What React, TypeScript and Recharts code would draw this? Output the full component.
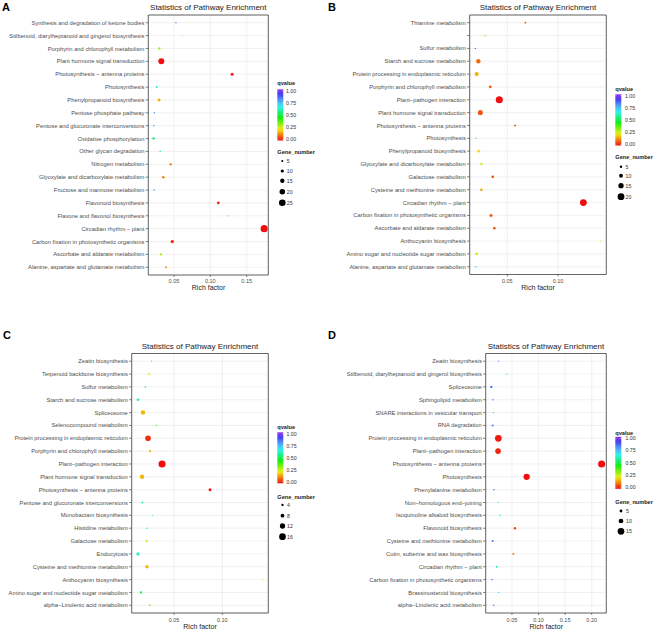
import React from 'react';
import { ScatterChart, Scatter, XAxis, YAxis, CartesianGrid, ReferenceArea } from 'recharts';

// ---------- Panel A ----------
const namesA = [
  'Synthesis and degradation of ketone bodies',
  'Stilbenoid, diarylheptanoid and gingerol biosynthesis',
  'Porphyrin and chlorophyll metabolism',
  'Plant hormone signal transduction',
  'Photosynthesis \u2212 antenna proteins',
  'Photosynthesis',
  'Phenylpropanoid biosynthesis',
  'Pentose phosphate pathway',
  'Pentose and glucuronate interconversions',
  'Oxidative phosphorylation',
  'Other glycan degradation',
  'Nitrogen metabolism',
  'Glyoxylate and dicarboxylate metabolism',
  'Fructose and mannose metabolism',
  'Flavonoid biosynthesis',
  'Flavone and flavonol biosynthesis',
  'Circadian rhythm \u2212 plant',
  'Carbon fixation in photosynthetic organisms',
  'Ascorbate and aldarate metabolism',
  'Alanine, aspartate and glutamate metabolism',
];
const richA = [0.0527, 0.0605, 0.0299, 0.0326, 0.130, 0.0263, 0.0295, 0.023, 0.0222, 0.022, 0.031, 0.0455, 0.0354, 0.0226, 0.111, 0.1245, 0.174, 0.0477, 0.032, 0.039];
const qA = [0.87, 0.22, 0.3, 0.0, 0.01, 0.65, 0.16, 0.81, 0.81, 0.56, 0.65, 0.11, 0.12, 0.82, 0.02, 0.72, 0.0, 0.02, 0.3, 0.14];
const geneA = [1, 2, 6, 22, 9, 5, 9, 2, 2, 7, 3, 6, 7, 2, 8, 1, 27, 10, 5, 5];

// ---------- Panel B ----------
const namesB = [
  'Thiamine metabolism',
  '',
  'Sulfur metabolism',
  'Starch and sucrose metabolism',
  'Protein processing in endoplasmic reticulum',
  'Porphyrin and chlorophyll metabolism',
  'Plant\u2212pathogen interaction',
  'Plant hormone signal transduction',
  'Photosynthesis \u2212 antenna proteins',
  'Photosynthesis',
  'Phenylpropanoid biosynthesis',
  'Glyoxylate and dicarboxylate metabolism',
  'Galactose metabolism',
  'Cysteine and methionine metabolism',
  'Circadian rhythm \u2212 plant',
  'Carbon fixation in photosynthetic organisms',
  'Ascorbate and aldarate metabolism',
  'Anthocyanin biosynthesis',
  'Amino sugar and nucleotide sugar metabolism',
  'Alanine, aspartate and glutamate metabolism',
];
const richB = [0.0678, 0.0283, 0.0184, 0.0214, 0.0198, 0.0332, 0.0421, 0.0234, 0.0576, 0.0188, 0.0218, 0.0244, 0.0356, 0.0244, 0.125, 0.0339, 0.0372, 0.142, 0.0198, 0.0188];
const qB = [0.07, 0.19, 0.89, 0.09, 0.16, 0.07, 0.0, 0.07, 0.05, 0.68, 0.2, 0.25, 0.07, 0.16, 0.0, 0.07, 0.07, 0.25, 0.26, 0.66];
const geneB = [3, 3, 1, 12, 11, 6, 21, 14, 3, 2, 6, 5, 6, 6, 20, 7, 6, 1, 6, 3];

// ---------- Panel C ----------
const namesC = [
  'Zeatin biosynthesis',
  'Terpenoid backbone biosynthesis',
  'Sulfur metabolism',
  'Starch and sucrose metabolism',
  'Spliceosome',
  'Selenocompound metabolism',
  'Protein processing in endoplasmic reticulum',
  'Porphyrin and chlorophyll metabolism',
  'Plant\u2212pathogen interaction',
  'Plant hormone signal transduction',
  'Photosynthesis \u2212 antenna proteins',
  'Pentose and glucuronate interconversions',
  'Monobactam biosynthesis',
  'Histidine metabolism',
  'Galactose metabolism',
  'Endocytosis',
  'Cysteine and methionine metabolism',
  'Anthocyanin biosynthesis',
  'Amino sugar and nucleotide sugar metabolism',
  'alpha\u2212Linolenic acid metabolism',
];
const richC = [0.0269, 0.0241, 0.0203, 0.0127, 0.0179, 0.0317, 0.0231, 0.0252, 0.0376, 0.0169, 0.0873, 0.0172, 0.028, 0.022, 0.0217, 0.0127, 0.022, 0.142, 0.0158, 0.0248];
const qC = [0.55, 0.24, 0.6, 0.6, 0.17, 0.4, 0.03, 0.17, 0.0, 0.17, 0.01, 0.58, 0.62, 0.58, 0.28, 0.62, 0.17, 0.26, 0.5, 0.3];
const geneC = [1, 3, 2, 5, 10, 1, 13, 4, 17, 10, 6, 3, 1, 2, 4, 7, 7, 1, 4, 3];

// ---------- Panel D ----------
const namesD = [
  'Zeatin biosynthesis',
  'Stilbenoid, diarylheptanoid and gingerol biosynthesis',
  'Spliceosome',
  'Sphingolipid metabolism',
  'SNARE interactions in vesicular transport',
  'RNA degradation',
  'Protein processing in endoplasmic reticulum',
  'Plant\u2212pathogen interaction',
  'Photosynthesis \u2212 antenna proteins',
  'Photosynthesis',
  'Phenylalanine metabolism',
  'Non\u2212homologous end\u2212joining',
  'Isoquinoline alkaloid biosynthesis',
  'Flavonoid biosynthesis',
  'Cysteine and methionine metabolism',
  'Cutin, suberine and wax biosynthesis',
  'Circadian rhythm \u2212 plant',
  'Carbon fixation in photosynthetic organisms',
  'Brassinosteroid biosynthesis',
  'alpha\u2212Linolenic acid metabolism',
];
const richD = [0.025, 0.0406, 0.0111, 0.0143, 0.0149, 0.0137, 0.0244, 0.0238, 0.2186, 0.0776, 0.0162, 0.0244, 0.0276, 0.0556, 0.0137, 0.0525, 0.0213, 0.0124, 0.025, 0.0156];
const qD = [0.8, 0.45, 0.82, 0.82, 0.82, 0.82, 0.01, 0.02, 0.0, 0.0, 0.83, 0.75, 0.6, 0.05, 0.83, 0.12, 0.6, 0.83, 0.75, 0.82];
const geneD = [1, 1, 4, 2, 1, 3, 15, 12, 16, 14, 2, 1, 2, 4, 3, 3, 3, 2, 1, 2];

// ---------- Axis / legend ticks ----------
const xTicksA = [0.05, 0.1, 0.15];
const xTicksB = [0.05, 0.1];
const xTicksC = [0.05, 0.1];
const xTicksD = [0.05, 0.1, 0.15, 0.2];
const qTicks = [1, 0.75, 0.5, 0.25, 0];
const geneTicksA = [5, 10, 15, 20, 25];
const geneTicksB = [5, 10, 15, 20];
const geneTicksC = [4, 8, 12, 16];
const geneTicksD = [5, 10, 15];

const FONT = '"Liberation Sans", Arial, sans-serif';
const qColor = (q: number) => {
  const bump = q < 0.5 ? 0 : q < 0.8 ? (q - 0.5) / 0.3 : 1 - ((q - 0.8) / 0.2) * 0.5;
  const l = 50 + 14 * bump;
  return `hsl(${270 * q}, 88%, ${l}%)`;
};
const diam = (n: number, nmax: number) => 1.2 + 5.9 * (n - 1) / (nmax - 1);

type PanelProps = {
  names: string[]; rich: number[]; q: number[]; gene: number[];
  xTicks: number[]; xDomain: [number, number];
  plot: { l: number; r: number; t: number; b: number };
  box: { x: number; y: number; w: number; h: number };
  tickGap: number;
};

function Panel({ names, rich, q, gene, xTicks, xDomain, plot, box, tickGap }: PanelProps) {
  const nmax = Math.max(...gene);
  const data = names.map((name, i) => ({ name, x: rich[i], y: i, q: q[i], n: gene[i] }));
  const yTicks = names.map((_, i) => i);
  const n = names.length;
  const renderDot = (props: any) => {
    const { cx, cy, payload } = props;
    if (cx == null || cy == null) return <g />;
    return <circle cx={cx} cy={cy} r={diam(payload.n, nmax) / 2} fill={qColor(payload.q)} />;
  };
  const renderYTick = (props: any) => {
    const { x, y, payload } = props;
    return (
      <text x={x} y={y} dy="0.355em" textAnchor="end" fontSize={5.8} fill="#4d4d4d" fontFamily={FONT}>
        {names[payload.value] ?? ''}
      </text>
    );
  };
  const renderXTick = (props: any) => {
    const { x, y, payload } = props;
    return (
      <text x={x} y={y} dy="0.71em" textAnchor="middle" fontSize={5.5} fill="#4d4d4d" fontFamily={FONT}>
        {Number(payload.value).toFixed(2)}
      </text>
    );
  };
  return (
    <div style={{ position: 'absolute', left: box.x, top: box.y, width: box.w, height: box.h }}>
      <ScatterChart
        width={box.w}
        height={box.h}
        margin={{ top: plot.t - box.y, right: box.x + box.w - plot.r, left: 0, bottom: 0 }}
      >
        <CartesianGrid stroke="#e8e8e8" strokeWidth={0.6} />
        <XAxis
          type="number"
          dataKey="x"
          domain={xDomain}
          allowDataOverflow
          ticks={xTicks}
          interval={0}
          height={box.y + box.h - plot.b}
          axisLine={false}
          tickLine={{ stroke: '#333', strokeWidth: 0.6 }}
          tickSize={2}
          tickMargin={tickGap}
          tick={renderXTick}
        />
        <YAxis
          type="number"
          dataKey="y"
          domain={[-0.6, n - 0.4]}
          allowDataOverflow
          reversed
          ticks={yTicks}
          interval={0}
          width={plot.l - box.x}
          axisLine={false}
          tickLine={{ stroke: '#333', strokeWidth: 0.6 }}
          tickSize={2.7}
          tickMargin={1.2}
          tick={renderYTick}
        />
        <Scatter data={data} shape={renderDot} isAnimationActive={false} />
        <ReferenceArea
          x1={xDomain[0]}
          x2={xDomain[1]}
          y1={-0.6}
          y2={n - 0.4}
          fill="none"
          fillOpacity={0}
          stroke="#555"
          strokeWidth={0.9}
          ifOverflow="visible"
        />
      </ScatterChart>
    </div>
  );
}

type LegendProps = {
  x: number; titleY: number; barTop: number; barBottom: number;
  valTop: number; valBottom: number; labelX: number;
  geneTitleY: number; dotX: number; dotYs: number[]; genes: number[]; nmax: number; geneLabelX: number;
};

function Legend({ x, titleY, barTop, barBottom, valTop, valBottom, labelX, geneTitleY, dotX, dotYs, genes, nmax, geneLabelX }: LegendProps) {
  return (
    <g fontFamily={FONT}>
      <text x={x} y={titleY} fontSize={5.6} fontWeight="bold" fill="#222">qvalue</text>
      <rect x={x} y={barTop} width={6} height={barBottom - barTop} fill="url(#qgrad)" />
      {qTicks.map((t) => {
        const yy = valBottom - t * (valBottom - valTop);
        return (
          <g key={t}>
            <line x1={x} x2={x + 1.2} y1={yy} y2={yy} stroke="#fff" strokeWidth={0.4} />
            <line x1={x + 4.8} x2={x + 6} y1={yy} y2={yy} stroke="#fff" strokeWidth={0.4} />
            <text x={labelX} y={yy + 1.9} fontSize={5.2} fill="#333">{t.toFixed(2)}</text>
          </g>
        );
      })}
      <text x={x} y={geneTitleY} fontSize={5.6} fontWeight="bold" fill="#222">Gene_number</text>
      {genes.map((g, i) => (
        <g key={g}>
          <circle cx={dotX} cy={dotYs[i]} r={diam(g, nmax) / 2} fill="#000" />
          <text x={geneLabelX} y={dotYs[i] + 1.9} fontSize={5.2} fill="#333">{g}</text>
        </g>
      ))}
    </g>
  );
}

const gradStops = [0, 0.05, 0.1, 0.15, 0.2, 0.25, 0.3, 0.35, 0.4, 0.45, 0.5, 0.55, 0.6, 0.65, 0.7, 0.75, 0.8, 0.85, 0.9, 0.95, 1];

export default function App() {
  const title = 'Statistics of Pathway Enrichment';
  return (
    <div style={{ position: 'absolute', left: 0, top: 0, width: 656, height: 630, background: '#fff', fontFamily: FONT }}>
      <Panel names={namesA} rich={richA} q={qA} gene={geneA} xTicks={xTicksA} xDomain={[0.0147, 0.1797]}
        plot={{ l: 148.3, r: 268.3, t: 15, b: 275 }} box={{ x: 0, y: 0, w: 328, h: 315 }} tickGap={2} />
      <Panel names={namesB} rich={richB} q={qB} gene={geneB} xTicks={xTicksB} xDomain={[0.0129, 0.1476]}
        plot={{ l: 469.7, r: 606.3, t: 15, b: 274.5 }} box={{ x: 328, y: 0, w: 328, h: 315 }} tickGap={2.5} />
      <Panel names={namesC} rich={richC} q={qC} gene={geneC} xTicks={xTicksC} xDomain={[0.0062, 0.1476]}
        plot={{ l: 131.7, r: 268.3, t: 353.5, b: 613 }} box={{ x: 0, y: 315, w: 328, h: 315 }} tickGap={3} />
      <Panel names={namesD} rich={richD} q={qD} gene={geneD} xTicks={xTicksD} xDomain={[0.0006, 0.2274]}
        plot={{ l: 485.7, r: 606.3, t: 353.5, b: 613 }} box={{ x: 328, y: 315, w: 328, h: 315 }} tickGap={3} />
      <svg width={656} height={630} style={{ position: 'absolute', left: 0, top: 0, pointerEvents: 'none' }}>
        <defs>
          <linearGradient id="qgrad" x1="0" y1="1" x2="0" y2="0">
            {gradStops.map((s) => (
              <stop key={s} offset={s} stopColor={qColor(s)} />
            ))}
          </linearGradient>
        </defs>
        <g fontFamily={FONT}>
          <text x={2} y={11} fontSize={11} fontWeight="bold" fill="#000">A</text>
          <text x={328} y={11} fontSize={11} fontWeight="bold" fill="#000">B</text>
          <text x={3} y={339} fontSize={11} fontWeight="bold" fill="#000">C</text>
          <text x={328} y={339} fontSize={11} fontWeight="bold" fill="#000">D</text>
          <text x={208.3} y={10} fontSize={8} textAnchor="middle" fill="#222">{title}</text>
          <text x={538} y={10} fontSize={8} textAnchor="middle" fill="#222">{title}</text>
          <text x={200} y={348.7} fontSize={8} textAnchor="middle" fill="#222">{title}</text>
          <text x={546} y={348.7} fontSize={8} textAnchor="middle" fill="#222">{title}</text>
          <text x={208.5} y={290.2} fontSize={7} textAnchor="middle" fill="#222">Rich factor</text>
          <text x={538} y={290.2} fontSize={7} textAnchor="middle" fill="#222">Rich factor</text>
          <text x={200} y={629} fontSize={7} textAnchor="middle" fill="#222">Rich factor</text>
          <text x={546.3} y={629} fontSize={7} textAnchor="middle" fill="#222">Rich factor</text>
        </g>
        <Legend x={277.3} titleY={85.3} barTop={89.3} barBottom={140.5} valTop={90.7} valBottom={139.3} labelX={286}
          geneTitleY={153.7} dotX={282.3} dotYs={[161, 171, 180.7, 191.7, 202.7]} genes={geneTicksA} nmax={Math.max(...geneA)} geneLabelX={286.8} />
        <Legend x={615.3} titleY={91} barTop={94.3} barBottom={145.5} valTop={95.7} valBottom={144.3} labelX={625}
          geneTitleY={158.7} dotX={621} dotYs={[166.7, 175.7, 185.7, 196.7]} genes={geneTicksB} nmax={Math.max(...geneB)} geneLabelX={625.5} />
        <Legend x={277.3} titleY={429.3} barTop={432.3} barBottom={483.3} valTop={434} valBottom={481.7} labelX={286.5}
          geneTitleY={498.7} dotX={282.5} dotYs={[505, 515.7, 526, 536.7]} genes={geneTicksC} nmax={Math.max(...geneC)} geneLabelX={287} />
        <Legend x={615.3} titleY={435.3} barTop={436.8} barBottom={488.8} valTop={438.3} valBottom={487.3} labelX={625.5}
          geneTitleY={503.7} dotX={621} dotYs={[511, 521, 531.3]} genes={geneTicksD} nmax={Math.max(...geneD)} geneLabelX={626} />
      </svg>
    </div>
  );
}
